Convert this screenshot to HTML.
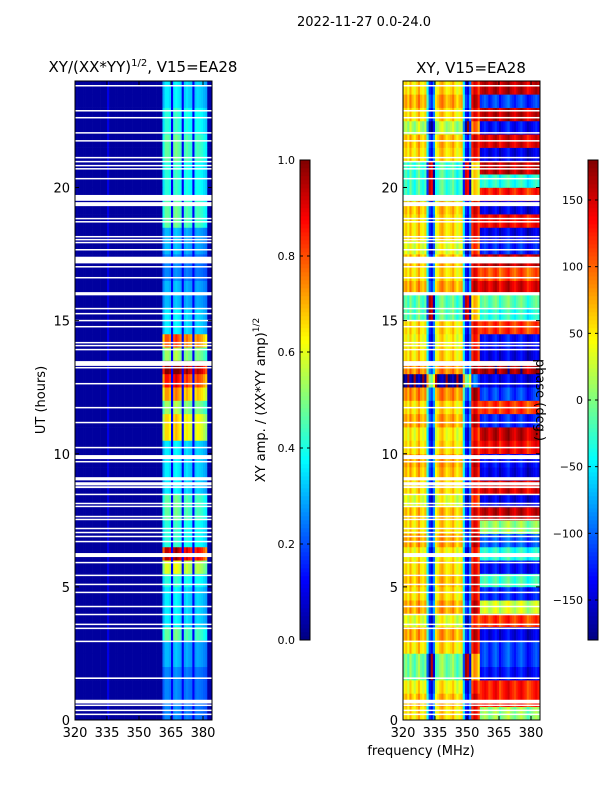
<!DOCTYPE html>
<html><head><meta charset="utf-8"><style>
body{margin:0;background:#fff;width:600px;height:800px;overflow:hidden}
svg{font-family:"DejaVu Sans","Liberation Sans",sans-serif}
</style></head><body>
<svg id="fig" width="600" height="800" viewBox="0 0 600 800" xmlns="http://www.w3.org/2000/svg">
<text x="364" y="26" font-size="13" text-anchor="middle">2022-11-27 0.0-24.0</text>
<text x="143" y="72" font-size="15" text-anchor="middle">XY/(XX*YY)<tspan font-size="10" dy="-6">1/2</tspan><tspan dy="6">, V15=EA28</tspan></text>
<text x="471" y="73" font-size="15" text-anchor="middle">XY, V15=EA28</text>
<g id="ampPanel"></g>
<g id="phPanel"></g>
<g id="axes"></g>
<text transform="translate(45,400) rotate(-90)" font-size="13" text-anchor="middle">UT (hours)</text>
<text x="421" y="755" font-size="13" text-anchor="middle">frequency (MHz)</text>
<text transform="translate(265,400) rotate(-90)" font-size="13" text-anchor="middle">XY amp. / (XX*YY amp)<tspan font-size="9" dy="-6">1/2</tspan></text>
<text transform="translate(536,400) rotate(90)" font-size="13" text-anchor="middle">phase (deg.)</text>
</svg>
<script>
// ---- data ----
const freqStart = 320;
const freqTicks = [320, 335, 350, 365, 380];
const hourTicks = [0, 5, 10, 15, 20];
const ampTicks = [0.0, 0.2, 0.4, 0.6, 0.8, 1.0];
const phaseTicks = [-150, -100, -50, 0, 50, 100, 150];
// amplitude per 1 MHz channel 320..383
const ampCol = [0.03,0.03,0.03,0.03,0.03,0.03,0.03,0.03,0.03,0.03,0.03,0.03,0.03,0.03,0.03,0.1,0.03,0.03,0.03,0.03,
0.03,0.03,0.03,0.03,0.03,0.03,0.03,0.03,0.03,0.03,0.03,0.03,0.03,0.03,0.03,0.03,0.03,0.03,0.03,0.03,
0.03,0.3,0.36,0.36,0.34,0.12,0.36,0.38,0.36,0.34,0.12,0.33,0.35,0.33,0.32,0.12,0.32,0.34,0.33,0.32,0.3,0.28,0.04,0.04];
// row factor for the bright band, per 0.5 h from 0 h
const ampRow = [0.8,0.8,0.8,0.8,0.9,0.9,1.2,1.0,1.0,1.0,1.1,1.4,1.9,1.1,1.1,1.2,1.2,1.0,1.0,1.0,
1.0,1.5,1.5,1.3,1.6,1.8,2.0,1.3,1.7,1.0,1.0,0.9,0.9,0.8,0.8,0.9,0.9,1.2,1.2,1.1,
1.1,1.1,1.2,1.2,1.1,1.1,1.0,1.0];
// phase per channel 320..355 (deg)
const phaseCol = [50,65,40,75,50,35,60,80,50,40,60,-40,-120,-140,-90,35,50,70,80,60,
40,50,60,75,50,30,50,60,-50,-130,-145,-90,120,150,140,110];
// left-section phase offset per 0.5 h
const phaseRowLeft = [0,10,-10,-60,-60,0,20,-20,20,0,10,0,-10,20,0,10,-20,0,10,20,
0,-10,20,0,30,-230,30,0,-10,0,-70,-70,20,0,10,-20,0,0,10,-80,
-80,-80,0,10,-40,0,20,0];
// right-section (>=356 MHz) phase per 0.5 h
const phaseRowRight = [0,120,120,-140,-120,-120,-150,110,20,-130,-30,-140,-40,-110,0,150,-150,140,-150,-140,
130,150,-130,110,-120,-150,160,-150,-140,110,-40,-20,140,100,150,-130,-150,130,-150,120,
-40,150,-150,140,-140,150,-120,150];
const phaseColRight = [0,10,20,10,-10,0,15,25,10,-15,0,10,20,30,10,0,-10,5,15,25,10,0,-20,-10,0,10,20,5];
// missing-data gaps: start hour, width (h)
const gapStart = [23.8,22.86,22.6,22.03,21.73,21.1,20.95,20.8,20.68,20.31,19.5,19.3,18.81,18.69,18.13,18.02,17.91,17.64,17.15,17.0,
16.59,15.95,15.43,15.24,14.98,14.75,14.15,14.04,13.89,13.3,13.21,12.61,11.71,11.15,10.21,9.8,9.68,9.0,8.81,8.71,
8.45,8.11,8.0,7.62,7.51,7.17,7.02,6.87,6.68,6.12,5.89,5.41,5.07,4.77,4.24,3.94,3.57,3.42,2.93,1.54,
0.62,0.53,0.34,0.19];
const gapWidth = [0.05,0.05,0.05,0.05,0.05,0.05,0.05,0.05,0.05,0.05,0.22,0.15,0.05,0.05,0.05,0.05,0.05,0.05,0.25,0.05,
0.05,0.12,0.05,0.05,0.05,0.05,0.05,0.05,0.05,0.18,0.05,0.05,0.05,0.05,0.05,0.15,0.05,0.12,0.12,0.07,
0.05,0.05,0.05,0.05,0.05,0.05,0.05,0.05,0.05,0.15,0.05,0.05,0.05,0.05,0.05,0.05,0.05,0.05,0.05,0.06,
0.14,0.05,0.05,0.05];

// ---- scales ----
const NS='http://www.w3.org/2000/svg';
const Y0=720, Y1=81, HMAX=24;
const yS = h => Y0 - h*(Y0-Y1)/HMAX;
const pxPerMHz = 32/15;
const xL = f => 75 + (f-320)*pxPerMHz;
const xR = f => 403 + (f-320)*pxPerMHz;
function jet(v){v=Math.max(0,Math.min(1,v));
 const c=x=>Math.round(255*Math.max(0,Math.min(1,x)));
 return `rgb(${c(1.5-Math.abs(4*v-3))},${c(1.5-Math.abs(4*v-2))},${c(1.5-Math.abs(4*v-1))})`;}
function el(tag,attrs,parent){const e=document.createElementNS(NS,tag);for(const k in attrs)e.setAttribute(k,attrs[k]);parent.appendChild(e);return e;}
function wrap(p){while(p>180)p-=360;while(p<-180)p+=360;return p;}

const ampG=document.getElementById('ampPanel');
const phG=document.getElementById('phPanel');
const nCh=ampCol.length;
for(let r=0;r<ampRow.length;r++){
 const h0=r*0.5,h1=h0+0.5;
 for(let i=0;i<nCh;i++){
  const f=freqStart+i;
  let a=ampCol[i]; if(a>0.2) a=a*Math.pow(ampRow[r],1.5);
  const c=el('rect',{x:xL(f),y:yS(h1),width:pxPerMHz+0.3,height:yS(h0)-yS(h1)+0.3,fill:jet(a)},ampG);
  
  
  let p = i<phaseCol.length ? wrap(phaseCol[i]+phaseRowLeft[r]) : wrap(phaseRowRight[r]+phaseColRight[i-phaseCol.length]);
  const d=el('rect',{x:xR(f),y:yS(h1),width:pxPerMHz+0.3,height:yS(h0)-yS(h1)+0.3,fill:jet((p+180)/360)},phG);
  
  
 }
}
// gaps
for(let g=0;g<gapStart.length;g++){
 const hTop=gapStart[g]+gapWidth[g];
 const hgt=Math.max(1.5,yS(gapStart[g])-yS(hTop));
 const a=el('rect',{x:75,y:yS(hTop),width:137,height:hgt,fill:'#fff'},ampG);
 
 
 const b=el('rect',{x:403,y:yS(hTop),width:137,height:hgt,fill:'#fff'},phG);
 
 
}
// axes
const ax=document.getElementById('axes');
[75,403].forEach(x0=>{
 const fr=el('rect',{x:x0,y:81,width:137,height:639,fill:'none',stroke:'#000','stroke-width':1},ax);
 
 
 const xf = x0===75?xL:xR;
 freqTicks.forEach(f=>{
  el('line',{x1:xf(f),x2:xf(f),y1:720,y2:716,stroke:'#000'},ax);
  el('line',{x1:xf(f),x2:xf(f),y1:81,y2:85,stroke:'#000'},ax);
  const t=el('text',{x:xf(f),y:737,'font-size':13,'text-anchor':'middle'},ax);
  t.textContent=f;
  
  
 });
 hourTicks.forEach(h=>{
  el('line',{x1:x0,x2:x0+4,y1:yS(h),y2:yS(h),stroke:'#000'},ax);
  el('line',{x1:x0+137,x2:x0+133,y1:yS(h),y2:yS(h),stroke:'#000'},ax);
  const t=el('text',{x:x0-5,y:yS(h)+5,'font-size':13,'text-anchor':'end'},ax);
  t.textContent=h;
  
  
 });
});
// colorbars
function colorbar(x0,vals,vmin,vmax,fmt,name){
 const g=el('g',{},ax);
 
 
 for(let k=0;k<120;k++){
  el('rect',{x:x0,y:640-(k+1)*4,width:10,height:4.3,fill:jet((k+0.5)/120)},g);
 }
 el('rect',{x:x0,y:160,width:10,height:480,fill:'none',stroke:'#000'},g);
 vals.forEach(v=>{
  const y=640-(v-vmin)/(vmax-vmin)*480;
  el('line',{x1:x0,x2:x0+3,y1:y,y2:y,stroke:'#000'},g);
  el('line',{x1:x0+10,x2:x0+7,y1:y,y2:y,stroke:'#000'},g);
  const t=el('text',{x:x0-5,y:y+4,'font-size':11,'text-anchor':'end'},g);
  t.textContent=fmt(v);
  
  
 });
}
colorbar(300,ampTicks,0,1,v=>v.toFixed(1),'amp-colorbar');
colorbar(588,phaseTicks,-180,180,v=>v<0?'\u2212'+(-v):''+v,'phase-colorbar');
</script>
</body></html>
